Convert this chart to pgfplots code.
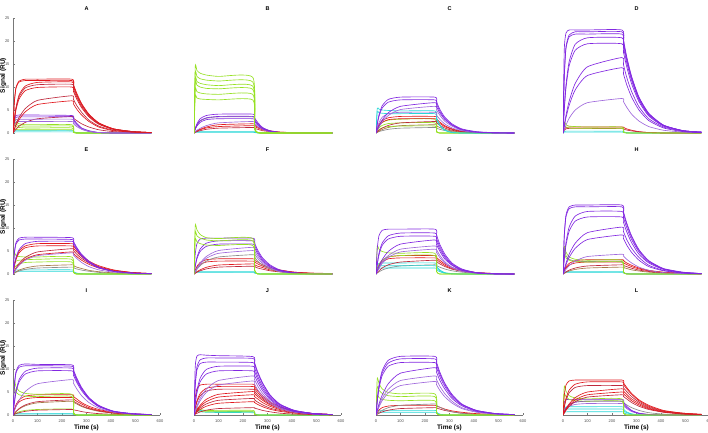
\documentclass[border=0pt]{standalone}
\usepackage{fontspec}
\setmainfont{Liberation Sans}
\usepackage{pgfplots}
\pgfplotsset{compat=1.18}
\definecolor{cR}{RGB}{225,25,30}
\definecolor{cR2}{RGB}{190,40,60}
\definecolor{cP}{RGB}{130,40,225}
\definecolor{cP2}{RGB}{160,105,220}
\definecolor{cG}{RGB}{150,225,35}
\definecolor{cC}{RGB}{40,215,215}
\definecolor{cGy}{RGB}{140,140,140}
\definecolor{cBr}{RGB}{165,120,70}
\definecolor{axg}{RGB}{120,120,120}
\def\rise#1/#2/#3/#4/#5/#6/#7\relax{(0,#1)(5,#2)(12,#3)(25,#4)(50,#5)(100,#6)(240,#7)}
\def\dec#1/#2/#3/#4/#5/#6/#7/#8\relax{(247,#1)(260,#2)(280,#3)(310,#4)(350,#5)(410,#6)(490,#7)(565,#8)}
\newcommand\cv[3]{\edef\tmp{\noexpand\addplot[#1] coordinates {\rise#2\relax\dec#3\relax};}\tmp}
\pgfplotsset{
 panel/.style={scale only axis, width=147pt, height=115pt,
  xmin=0, xmax=600, ymin=0, ymax=25,
  axis x line*=bottom, axis y line*=left,
  axis line style={draw=axg, line width=0.4pt},
  tick style={draw=axg, line width=0.3pt},
  tick align=inside, major tick length=2pt,
  xtick={0,100,...,600}, ytick={0,5,...,25},
  /pgf/number format/assume math mode=true,
  ticklabel style={font=\fontsize{4}{4}\selectfont, text=black!70},
  xticklabel style={yshift=-1.5pt},
  title style={font=\bfseries\fontsize{5.5}{6}\selectfont, at={(0.5,1)}, anchor=south, inner sep=0pt, yshift=1.5pt},
  ylabel style={font=\bfseries\fontsize{6.5}{7}\selectfont, at={(axis description cs:-0.066,0.5)}, anchor=center},
  xlabel style={font=\bfseries\fontsize{6.5}{7}\selectfont, at={(axis description cs:0.5,-0.113)}, anchor=center},
  every axis plot/.append style={line width=0.65pt, mark=none, smooth, tension=0.35},
 }
}
\begin{document}
\begin{tikzpicture}
\useasboundingbox (0,0) rectangle (708pt,432pt);
% ---------------- A
\begin{axis}[panel, at={(13pt,299pt)}, anchor=south west, hide x axis, title={A}, ylabel={Signal (RU)}]
\cv{cC}{0/0.4/0.5/0.5/0.5/0.5/0.5}{0.3/0.1/0/0/0/0/0/0}
\cv{cC}{0/0.2/0.25/0.25/0.25/0.25/0.25}{0.15/0.05/0/0/0/0/0/0}
\cv{cG}{0/3.3/2.6/2.0/1.8/1.8/1.8}{0.2/0/0/0/0/0/0/0}
\cv{cG}{0/2.5/1.9/1.6/1.5/1.5/1.5}{0.2/0/0/0/0/0/0/0}
\cv{cG}{0/1.8/1.4/1.2/1.1/1.1/1.1}{0.15/0/0/0/0/0/0/0}
\cv{cG}{0/1.0/0.8/0.7/0.7/0.7/0.7}{0.1/0/0/0/0/0/0/0}
\cv{cR2}{0/0.35/0.8/1.5/2.3/3.1/3.6}{3.2/2.7/2.0/1.3/0.7/0.3/0.1/0}
\cv{cP}{0/3.1/3.8/3.9/3.9/3.9/3.8}{3.1/2.1/1.1/0.5/0.1/0/0/0}
\cv{cP}{0/2.8/3.4/3.5/3.5/3.5/3.5}{2.8/1.9/1.0/0.4/0.1/0/0/0}
\cv{cP2}{0/2.4/2.9/3.0/3.0/3.0/3.0}{2.4/1.7/0.9/0.4/0.1/0/0/0}
\cv{cP2}{0/2.0/2.4/2.5/2.5/2.5/2.5}{2.0/1.4/0.8/0.3/0.1/0/0/0}
\cv{cR}{0/6.4/9.9/11.3/11.7/11.7/11.7}{10.5/8.7/6.4/4.1/2.2/0.9/0.3/0.1}
\cv{cR}{0/6.3/9.7/11.1/11.4/11.4/11.4}{10.3/8.4/6.3/4.0/2.2/0.9/0.3/0.1}
\cv{cR}{0/2.8/5.5/8.3/10.2/11.0/11.1}{10.0/8.2/6.1/3.9/2.1/0.9/0.3/0.1}
\cv{cR2}{0/2.6/5.3/7.9/9.8/10.5/10.6}{9.5/7.8/5.8/3.7/2.0/0.8/0.3/0.1}
\cv{cR}{0/2.5/5.0/7.4/9.2/9.9/10.0}{9.0/7.4/5.5/3.5/1.9/0.8/0.2/0.1}
\cv{cR2}{0/0.8/1.9/3.4/5.3/7.1/8.1}{7.3/6.0/4.5/2.8/1.5/0.6/0.2/0.1}
\cv{cR}{0/0.7/1.6/2.9/4.6/6.2/7.0}{6.3/5.2/3.9/2.5/1.3/0.5/0.2/0.1}
\end{axis}
% ---------------- B
\begin{axis}[panel, at={(194pt,299pt)}, anchor=south west, hide x axis, hide y axis, title={B}]
\cv{cC}{0/0.3/0.3/0.3/0.3/0.3/0.3}{0.2/0.05/0/0/0/0/0/0}
\cv{cC}{0/0.15/0.15/0.15/0.15/0.15/0.15}{0.1/0/0/0/0/0/0/0}
\cv{cR}{0/0.2/0.5/0.8/1.3/1.8/2.0}{1.7/1.3/0.9/0.5/0.2/0.1/0/0}
\cv{cR}{0/0.16/0.4/0.7/1.1/1.4/1.6}{1.4/1.1/0.7/0.4/0.2/0.05/0/0}
\cv{cR2}{0/0.12/0.3/0.5/0.8/1.05/1.2}{1.0/0.8/0.5/0.3/0.1/0/0/0}
\cv{cGy}{0/0.9/1.7/2.6/3.2/3.5/3.5}{2.8/1.9/1.0/0.4/0.1/0/0/0}
\cv{cP2}{0/0.25/0.6/1.0/1.6/2.2/2.5}{2.0/1.4/0.8/0.3/0.1/0/0/0}
\cv{cP}{0/0.8/1.5/2.3/2.9/3.1/3.1}{2.5/1.7/0.9/0.4/0.1/0/0/0}
\cv{cP}{0/0.9/1.8/2.7/3.3/3.6/3.6}{2.9/2.0/1.1/0.4/0.1/0/0/0}
\cv{cP}{0/1.0/2.0/3.1/3.8/4.1/4.1}{3.3/2.3/1.2/0.5/0.15/0/0/0}
\cv{cG}{0/14.4/13.6/13.0/12.6/12.3/12.1}{1.5/0.1/0/0/0/0/0/0}
\cv{cG}{0/13.0/12.3/11.8/11.5/11.3/11.1}{1.4/0.1/0/0/0/0/0/0}
\cv{cG}{0/11.8/11.2/10.8/10.5/10.3/10.2}{1.3/0.1/0/0/0/0/0/0}
\cv{cG}{0/11.0/10.4/10.0/9.7/9.6/9.5}{1.2/0.1/0/0/0/0/0/0}
\cv{cG}{0/9.5/9.0/8.7/8.5/8.4/8.4}{1.0/0.1/0/0/0/0/0/0}
\cv{cG}{0/8.0/7.6/7.4/7.3/7.2/7.2}{0.9/0.05/0/0/0/0/0/0}
\end{axis}
% ---------------- C
\begin{axis}[panel, at={(376pt,299pt)}, anchor=south west, hide x axis, hide y axis, title={C}]
\cv{cGy}{0/0.12/0.3/0.5/0.8/1.05/1.2}{1.05/0.8/0.55/0.3/0.15/0.05/0/0}
\cv{cBr}{0/0.18/0.4/0.75/1.2/1.6/1.8}{1.55/1.2/0.8/0.45/0.2/0.05/0/0}
\cv{cG}{0/0.8/1.5/2.3/2.8/3.0/3.0}{0.4/0/0/0/0/0/0/0}
\cv{cG}{0/0.55/1.1/1.65/2.05/2.2/2.2}{0.3/0/0/0/0/0/0/0}
\cv{cG}{0/0.4/0.75/1.1/1.4/1.5/1.5}{0.2/0/0/0/0/0/0/0}
\cv{cR}{0/0.9/1.8/2.7/3.3/3.6/3.6}{3.1/2.4/1.6/0.9/0.4/0.1/0/0}
\cv{cR}{0/0.8/1.5/2.3/2.9/3.1/3.1}{2.7/2.1/1.4/0.8/0.3/0.1/0/0}
\cv{cR2}{0/0.25/0.6/1.05/1.65/2.2/2.5}{2.2/1.7/1.1/0.6/0.3/0.1/0/0}
\cv{cC}{0/5.3/5.2/5.0/4.9/4.8/4.8}{3.4/1.8/0.7/0.1/0/0/0/0}
\cv{cC}{0/4.6/4.4/4.3/4.2/4.2/4.2}{2.9/1.6/0.6/0.1/0/0/0/0}
\cv{cP2}{0/1.1/2.2/3.4/4.2/4.5/4.5}{3.9/3.0/2.0/1.1/0.5/0.15/0/0}
\cv{cP2}{0/0.6/1.3/2.4/3.8/5.1/5.8}{5.0/3.9/2.6/1.5/0.6/0.2/0/0}
\cv{cP}{0/0.7/1.5/2.8/4.4/5.8/6.6}{5.7/4.4/3.0/1.7/0.7/0.2/0.05/0}
\cv{cP}{0/1.8/3.6/5.4/6.7/7.2/7.2}{6.3/4.8/3.2/1.8/0.8/0.2/0.05/0}
\cv{cP}{0/2.0/3.9/5.9/7.3/7.8/7.8}{6.8/5.2/3.5/2.0/0.9/0.3/0.05/0}
\end{axis}
% ---------------- D
\begin{axis}[panel, at={(563pt,299pt)}, anchor=south west, hide x axis, hide y axis, title={D}]
\cv{cC}{0/0.35/0.4/0.4/0.4/0.4/0.4}{0.25/0.1/0/0/0/0/0/0}
\cv{cC}{0/0.2/0.2/0.2/0.2/0.2/0.2}{0.1/0/0/0/0/0/0/0}
\cv{cR}{0/0.8/1.2/1.3/1.3/1.3/1.3}{1.2/0.9/0.6/0.3/0.1/0/0/0}
\cv{cR2}{0/0.6/0.9/1.0/1.0/1.0/0.95}{0.85/0.65/0.45/0.25/0.1/0/0/0}
\cv{cG}{0/2.4/1.8/1.5/1.4/1.3/1.3}{0.2/0/0/0/0/0/0/0}
\cv{cG}{0/1.6/1.3/1.1/1.0/1.0/1.0}{0.15/0/0/0/0/0/0/0}
\cv{cP2}{0/0.75/1.7/3.2/5.0/6.6/7.5}{6.8/5.6/4.1/2.6/1.4/0.6/0.2/0.1}
\cv{cP}{0/1.4/3.3/6.0/9.4/12.5/14.2}{12.8/10.5/7.8/5.0/2.7/1.1/0.3/0.1}
\cv{cP}{0/1.6/3.8/6.9/10.8/14.4/16.4}{14.8/12.1/9.0/5.7/3.1/1.3/0.4/0.1}
\cv{cP}{0/4.9/9.7/14.6/18.0/19.4/19.4}{17.5/14.4/10.7/6.8/3.7/1.5/0.5/0.1}
\cv{cP}{0/5.2/10.4/15.5/19.3/20.7/20.7}{18.6/15.3/11.4/7.2/3.9/1.6/0.5/0.2}
\cv{cP}{0/11.8/18.3/20.9/21.5/21.5/21.5}{19.4/15.9/11.8/7.5/4.1/1.7/0.5/0.2}
\cv{cP}{0/12.1/18.7/21.3/22.0/22.0/22.0}{19.8/16.3/12.1/7.7/4.2/1.7/0.5/0.2}
\cv{cP}{0/17.9/21.7/22.4/22.4/22.4/22.4}{20.2/16.6/12.3/7.8/4.3/1.7/0.5/0.2}
\end{axis}
% ---------------- E
\begin{axis}[panel, at={(13pt,158pt)}, anchor=south west, hide x axis, title={E}, ylabel={Signal (RU)}]
\cv{cC}{0/0.8/0.9/0.9/0.9/0.9/0.9}{0.5/0.2/0.05/0/0/0/0/0}
\cv{cC}{0/0.5/0.6/0.6/0.6/0.6/0.6}{0.35/0.1/0/0/0/0/0/0}
\cv{cGy}{0/0.15/0.35/0.65/1.0/1.3/1.5}{1.35/1.1/0.85/0.6/0.35/0.15/0.05/0}
\cv{cBr}{0/0.2/0.45/0.85/1.3/1.75/2.0}{1.8/1.5/1.2/0.8/0.5/0.25/0.1/0}
\cv{cG}{0/4.5/4.0/3.8/3.7/3.7/3.7}{0.4/0/0/0/0/0/0/0}
\cv{cG}{0/2.4/2.8/3.0/3.1/3.2/3.2}{0.4/0/0/0/0/0/0/0}
\cv{cG}{0/1.2/1.8/2.2/2.5/2.6/2.6}{0.3/0/0/0/0/0/0/0}
\cv{cR}{0/0.5/1.1/2.0/3.2/4.2/4.8}{4.4/3.8/3.0/2.1/1.3/0.6/0.2/0.1}
\cv{cR2}{0/0.55/1.3/2.3/3.6/4.8/5.5}{5.1/4.3/3.4/2.4/1.5/0.7/0.3/0.1}
\cv{cR}{0/1.5/3.1/4.6/5.7/6.1/6.1}{5.6/4.8/3.8/2.6/1.6/0.8/0.3/0.1}
\cv{cR}{0/1.7/3.3/5.0/6.1/6.6/6.6}{6.1/5.2/4.1/2.8/1.8/0.9/0.3/0.1}
\cv{cP2}{0/0.5/1.1/1.9/3.0/4.0/4.6}{4.1/3.4/2.5/1.6/0.9/0.4/0.1/0}
\cv{cP}{0/1.8/3.6/5.3/6.6/7.1/7.1}{6.4/5.3/3.9/2.5/1.3/0.6/0.2/0.1}
\cv{cP}{0/4.2/6.5/7.4/7.6/7.6/7.5}{6.8/5.6/4.1/2.6/1.4/0.6/0.2/0.1}
\cv{cP}{0/4.4/6.8/7.8/8.0/8.0/7.9}{7.1/5.8/4.3/2.8/1.5/0.6/0.2/0.1}
\end{axis}
% ---------------- F
\begin{axis}[panel, at={(194pt,158pt)}, anchor=south west, hide x axis, hide y axis, title={F}]
\cv{cC}{0/0.45/0.5/0.5/0.5/0.5/0.5}{0.3/0.1/0/0/0/0/0/0}
\cv{cC}{0/0.25/0.3/0.3/0.3/0.3/0.3}{0.2/0.05/0/0/0/0/0/0}
\cv{cR2}{0/0.17/0.4/0.7/1.1/1.5/1.7}{1.6/1.3/1.05/0.7/0.45/0.2/0.1/0}
\cv{cR}{0/0.2/0.5/0.9/1.45/1.95/2.2}{2.0/1.7/1.4/0.9/0.6/0.3/0.1/0}
\cv{cR}{0/0.7/1.4/2.1/2.6/2.8/2.8}{2.6/2.2/1.7/1.2/0.8/0.4/0.1/0}
\cv{cR}{0/0.8/1.65/2.5/3.1/3.3/3.3}{3.0/2.6/2.0/1.4/0.9/0.4/0.2/0.1}
\cv{cGy}{0/0.4/1.0/1.8/2.8/3.7/4.2}{3.7/2.8/1.9/1.1/0.5/0.1/0/0}
\cv{cP2}{0/0.5/1.2/2.1/3.4/4.5/5.1}{4.4/3.4/2.3/1.3/0.6/0.2/0/0}
\cv{cP2}{0/0.6/1.3/2.4/3.8/5.1/5.8}{5.0/3.9/2.6/1.5/0.6/0.2/0/0}
\cv{cP}{0/1.6/3.3/4.9/6.0/6.5/6.5}{5.7/4.4/2.9/1.6/0.7/0.2/0/0}
\cv{cP}{0/1.8/3.6/5.4/6.7/7.2/7.2}{6.3/4.8/3.2/1.8/0.8/0.2/0.05/0}
\cv{cP}{0/4.3/6.6/7.6/7.8/7.8/7.8}{6.8/5.2/3.5/2.0/0.9/0.3/0.05/0}
\cv{cG}{0/10.5/9.6/8.6/7.9/7.7/7.7}{1.0/0.05/0/0/0/0/0/0}
\cv{cG}{0/9.0/8.3/7.8/7.4/7.2/7.2}{0.9/0/0/0/0/0/0/0}
\cv{cG}{0/7.5/7.0/6.6/6.3/6.2/6.2}{0.8/0/0/0/0/0/0/0}
\end{axis}
% ---------------- G
\begin{axis}[panel, at={(376pt,158pt)}, anchor=south west, hide x axis, hide y axis, title={G}]
\cv{cGy}{0/0.2/0.45/0.85/1.3/1.75/2.0}{1.8/1.5/1.1/0.7/0.4/0.15/0.05/0}
\cv{cC}{0/1.0/1.25/1.3/1.3/1.3/1.3}{0.9/0.5/0.2/0/0/0/0/0}
\cv{cC}{0/1.4/1.75/1.8/1.8/1.8/1.8}{1.3/0.7/0.25/0.05/0/0/0/0}
\cv{cC}{0/1.9/2.3/2.4/2.4/2.4/2.4}{1.7/0.9/0.3/0.1/0/0/0/0}
\cv{cR2}{0/0.3/0.7/1.3/2.0/2.6/3.0}{2.7/2.2/1.65/1.05/0.6/0.2/0.1/0}
\cv{cR}{0/0.9/1.75/2.6/3.3/3.5/3.5}{3.2/2.6/1.9/1.2/0.7/0.3/0.1/0}
\cv{cR}{0/1.0/2.0/3.0/3.7/4.0/4.0}{3.6/3.0/2.2/1.4/0.8/0.3/0.1/0}
\cv{cG}{0/1.0/2.0/3.0/3.7/4.0/4.0}{0.5/0/0/0/0/0/0/0}
\cv{cG}{0/6.0/5.4/4.9/4.6/4.5/4.5}{0.6/0/0/0/0/0/0/0}
\cv{cP2}{0/0.5/1.2/2.3/3.6/4.8/5.4}{4.7/3.6/2.4/1.35/0.6/0.2/0/0}
\cv{cP2}{0/0.6/1.4/2.6/4.0/5.4/6.1}{5.3/4.1/2.7/1.5/0.7/0.2/0/0}
\cv{cP}{0/0.7/1.7/3.1/4.9/6.5/7.4}{6.4/5.0/3.3/1.9/0.8/0.2/0/0}
\cv{cP}{0/2.0/4.1/6.2/7.6/8.2/8.2}{7.1/5.5/3.7/2.0/0.9/0.3/0/0}
\cv{cP}{0/2.2/4.5/6.7/8.3/8.9/8.9}{7.7/6.0/4.0/2.2/1.0/0.3/0.05/0}
\cv{cP}{0/5.4/8.3/9.5/9.75/9.75/9.75}{8.5/6.5/4.4/2.4/1.1/0.3/0.07/0}
\end{axis}
% ---------------- H
\begin{axis}[panel, at={(563pt,158pt)}, anchor=south west, hide x axis, hide y axis, title={H}]
\cv{cC}{0/0.45/0.5/0.5/0.5/0.5/0.5}{0.3/0.1/0/0/0/0/0/0}
\cv{cC}{0/0.25/0.3/0.3/0.3/0.3/0.3}{0.2/0.05/0/0/0/0/0/0}
\cv{cBr}{0/0.15/0.35/0.65/1.0/1.3/1.5}{1.4/1.2/0.9/0.65/0.4/0.2/0.05/0}
\cv{cR2}{0/0.2/0.45/0.85/1.3/1.75/2.0}{1.85/1.6/1.25/0.85/0.55/0.25/0.1/0}
\cv{cR}{0/0.65/1.3/1.95/2.4/2.6/2.6}{2.4/2.05/1.6/1.1/0.7/0.35/0.1/0}
\cv{cR}{0/0.8/1.55/2.3/2.9/3.1/3.1}{2.9/2.4/1.9/1.3/0.8/0.4/0.15/0.05}
\cv{cGy}{0/5.5/4.0/3.2/2.8/2.7/2.7}{0.4/0/0/0/0/0/0/0}
\cv{cG}{0/4.2/3.5/3.0/2.7/2.6/2.6}{0.35/0/0/0/0/0/0/0}
\cv{cG}{0/6.0/4.8/3.7/3.2/3.0/3.0}{0.4/0/0/0/0/0/0/0}
\cv{cP2}{0/0.4/1.0/1.8/2.8/3.8/4.3}{3.9/3.2/2.4/1.5/0.8/0.3/0.1/0}
\cv{cP}{0/0.85/2.0/3.6/5.6/7.5/8.5}{7.7/6.3/4.7/3.0/1.6/0.7/0.2/0.1}
\cv{cP}{0/1.0/2.3/4.3/6.7/9.0/10.2}{9.2/7.5/5.6/3.6/1.9/0.8/0.25/0.1}
\cv{cP}{0/3.1/6.2/9.3/11.5/12.4/12.4}{11.2/9.2/6.8/4.3/2.4/1.0/0.3/0.1}
\cv{cP}{0/3.4/6.8/10.2/12.6/13.6/13.6}{12.2/10.1/7.5/4.8/2.6/1.1/0.3/0.1}
\cv{cP}{0/8.0/12.4/14.2/14.6/14.6/14.6}{13.1/10.8/8.0/5.1/2.8/1.1/0.35/0.1}
\cv{cP}{0/8.3/12.8/14.6/15.0/15.0/15.0}{13.5/11.1/8.3/5.3/2.9/1.2/0.4/0.1}
\end{axis}
% ---------------- I
\begin{axis}[panel, at={(13pt,17pt)}, anchor=south west, title={I}, ylabel={Signal (RU)}, xlabel={Time (s)}]
\cv{cC}{0/0.25/0.3/0.3/0.3/0.3/0.3}{0.2/0.05/0/0/0/0/0/0}
\cv{cC}{0/0.15/0.2/0.2/0.2/0.2/0.2}{0.1/0/0/0/0/0/0/0}
\cv{cG}{0/0.2/0.4/0.7/1.0/1.2/1.3}{0.2/0/0/0/0/0/0/0}
\cv{cR2}{0/0.12/0.3/0.5/0.8/1.05/1.2}{1.1/1.0/0.75/0.5/0.3/0.15/0.05/0}
\cv{cBr}{0/0.3/0.7/1.3/2.0/2.65/3.0}{2.75/2.4/1.85/1.3/0.8/0.4/0.15/0.05}
\cv{cR2}{0/0.33/0.76/1.4/2.2/2.9/3.3}{3.0/2.6/2.0/1.4/0.9/0.4/0.2/0.1}
\cv{cR}{0/0.95/1.9/2.85/3.5/3.8/3.8}{3.5/3.0/2.4/1.6/1.0/0.5/0.2/0.1}
\cv{cR}{0/1.1/2.2/3.3/4.1/4.4/4.4}{4.0/3.5/2.7/1.9/1.2/0.6/0.2/0.1}
\cv{cG}{0/5.8/5.0/4.4/4.1/4.0/4.0}{0.5/0/0/0/0/0/0/0}
\cv{cG}{0/7.3/6.2/5.2/4.7/4.5/4.5}{0.6/0/0/0/0/0/0/0}
\cv{cP2}{0/0.8/1.8/3.2/5.1/6.8/7.7}{6.9/5.7/4.2/2.7/1.5/0.6/0.2/0.1}
\cv{cP}{0/2.4/4.8/7.2/8.9/9.6/9.6}{8.6/7.1/5.3/3.4/1.8/0.75/0.2/0.1}
\cv{cP}{0/2.6/5.1/7.7/9.5/10.2/10.2}{9.2/7.5/5.6/3.6/1.9/0.8/0.25/0.1}
\cv{cP}{0/5.9/9.1/10.4/10.7/10.7/10.6}{9.5/7.8/5.8/3.7/2.0/0.8/0.25/0.1}
\cv{cP}{0/6.1/9.4/10.8/11.1/11.0/10.9}{9.8/8.1/6.0/3.8/2.1/0.85/0.3/0.1}
\end{axis}
% ---------------- J
\begin{axis}[panel, at={(194pt,17pt)}, anchor=south west, hide y axis, title={J}, xlabel={Time (s)}]
\cv{cC}{0/1.2/1.1/1.0/0.9/0.8/0.7}{0.3/0.05/0/0/0/0/0/0}
\cv{cC}{0/0.8/0.75/0.7/0.6/0.55/0.5}{0.2/0.05/0/0/0/0/0/0}
\cv{cG}{0/2.0/1.6/1.2/1.0/1.0/1.0}{0.2/0/0/0/0/0/0/0}
\cv{cG}{0/1.3/1.0/0.8/0.7/0.7/0.7}{0.15/0/0/0/0/0/0/0}
\cv{cR2}{0/0.16/0.37/0.67/1.05/1.4/1.6}{1.5/1.3/1.0/0.7/0.4/0.2/0.1/0}
\cv{cR}{0/0.3/0.7/1.2/1.9/2.55/2.9}{2.7/2.3/1.8/1.25/0.8/0.4/0.15/0.05}
\cv{cR2}{0/0.36/0.8/1.5/2.4/3.2/3.6}{3.3/2.8/2.2/1.5/1.0/0.5/0.2/0.1}
\cv{cR}{0/0.45/1.0/1.85/2.9/3.9/4.4}{4.0/3.5/2.7/1.9/1.2/0.6/0.2/0.1}
\cv{cR}{0/0.5/1.2/2.1/3.4/4.5/5.1}{4.7/4.0/3.2/2.2/1.4/0.7/0.3/0.1}
\cv{cR2}{0/1.4/2.8/4.2/5.2/5.6/5.6}{5.2/4.4/3.5/2.4/1.5/0.7/0.3/0.1}
\cv{cR}{0/1.55/3.1/4.65/5.8/6.2/6.2}{5.7/4.9/3.8/2.7/1.7/0.8/0.3/0.1}
\cv{cR}{0/3.7/5.7/6.5/6.7/6.7/6.7}{6.2/5.3/4.2/2.9/1.8/0.9/0.3/0.1}
\cv{cP2}{0/0.75/1.7/3.1/4.9/6.5/7.4}{6.7/5.5/4.1/2.6/1.4/0.6/0.2/0.1}
\cv{cP2}{0/0.85/2.0/3.6/5.6/7.5/8.5}{7.7/6.3/4.7/3.0/1.6/0.7/0.2/0.1}
\cv{cP}{0/2.4/4.8/7.2/8.9/9.6/9.6}{8.6/7.1/5.3/3.4/1.8/0.75/0.2/0.1}
\cv{cP}{0/2.65/5.3/8.0/9.9/10.6/10.6}{9.5/7.8/5.8/3.7/2.0/0.8/0.25/0.1}
\cv{cP}{0/6.3/9.8/11.2/11.5/11.5/11.4}{10.3/8.4/6.3/4.0/2.2/0.9/0.3/0.1}
\cv{cP}{0/6.8/10.5/12.0/12.4/12.4/12.3}{11.1/9.1/6.8/4.3/2.3/1.0/0.3/0.1}
\cv{cP}{0/10.5/12.8/13.1/13.0/12.9/12.7}{11.4/9.4/7.0/4.4/2.4/1.0/0.3/0.1}
\end{axis}
% ---------------- K
\begin{axis}[panel, at={(376pt,17pt)}, anchor=south west, hide y axis, title={K}, xlabel={Time (s)}]
\cv{cC}{0/0.8/1.0/1.0/1.0/1.0/1.0}{0.6/0.2/0.05/0/0/0/0/0}
\cv{cC}{0/0.5/0.6/0.6/0.6/0.6/0.6}{0.35/0.1/0/0/0/0/0/0}
\cv{cR2}{0/0.16/0.37/0.67/1.05/1.4/1.6}{1.5/1.3/1.0/0.7/0.4/0.2/0.1/0}
\cv{cR}{0/0.5/1.05/1.6/1.95/2.1/2.1}{1.9/1.7/1.3/0.9/0.6/0.3/0.1/0}
\cv{cGy}{0/0.25/0.55/1.0/1.6/2.1/2.4}{2.1/1.7/1.2/0.7/0.35/0.1/0/0}
\cv{cG}{0/4.2/3.8/3.4/3.2/3.1/3.1}{0.4/0/0/0/0/0/0/0}
\cv{cG}{0/6.0/5.4/4.7/4.2/4.0/4.0}{0.5/0/0/0/0/0/0/0}
\cv{cG}{0/7.9/6.9/5.7/4.9/4.6/4.6}{0.6/0/0/0/0/0/0/0}
\cv{cP2}{0/0.7/1.7/3.1/4.8/6.4/7.3}{6.6/5.4/4.0/2.6/1.4/0.6/0.2/0.1}
\cv{cP2}{0/0.85/2.0/3.6/5.6/7.5/8.5}{7.7/6.3/4.7/3.0/1.6/0.7/0.2/0.1}
\cv{cP}{0/1.0/2.4/4.3/6.8/9.1/10.3}{9.3/7.6/5.7/3.6/2.0/0.8/0.25/0.1}
\cv{cP}{0/2.85/5.7/8.55/10.6/11.4/11.4}{10.3/8.4/6.3/4.0/2.2/0.9/0.3/0.1}
\cv{cP}{0/3.05/6.1/9.15/11.3/12.2/12.2}{11.0/9.0/6.7/4.3/2.3/1.0/0.3/0.1}
\cv{cP}{0/3.2/6.4/9.6/11.9/12.75/12.75}{11.5/9.4/7.0/4.5/2.4/1.0/0.3/0.1}
\end{axis}
% ---------------- L
\begin{axis}[panel, at={(563pt,17pt)}, anchor=south west, hide y axis, title={L}, xlabel={Time (s)}]
\cv{cC}{0/0.55/0.68/0.7/0.7/0.7/0.7}{0.5/0.25/0.1/0/0/0/0/0}
\cv{cC}{0/1.05/1.27/1.3/1.3/1.3/1.3}{0.9/0.5/0.2/0.05/0/0/0/0}
\cv{cC}{0/1.45/1.75/1.8/1.8/1.8/1.8}{1.26/0.67/0.25/0.05/0/0/0/0}
\cv{cGy}{0/0.75/1.5/2.25/2.8/3.0/3.0}{2.7/2.2/1.6/1.0/0.5/0.2/0.05/0}
\cv{cP2}{0/0.6/1.25/1.9/2.3/2.5/2.5}{2.0/1.4/0.75/0.3/0.1/0/0/0}
\cv{cP}{0/0.75/1.5/2.25/2.8/3.0/3.0}{2.4/1.65/0.9/0.36/0.1/0/0/0}
\cv{cP}{0/2.7/3.3/3.4/3.4/3.4/3.4}{2.75/1.9/1.0/0.4/0.13/0/0/0}
\cv{cG}{0/4.5/4.0/3.4/3.1/3.0/3.0}{0.4/0/0/0/0/0/0/0}
\cv{cG}{0/6.2/5.2/4.2/3.7/3.5/3.5}{0.4/0/0/0/0/0/0/0}
\cv{cR2}{0/0.44/1.0/1.85/2.9/3.9/4.4}{4.0/3.5/2.7/1.9/1.2/0.6/0.2/0.1}
\cv{cR}{0/0.5/1.15/2.1/3.3/4.4/5.0}{4.6/4.0/3.1/2.2/1.35/0.65/0.25/0.1}
\cv{cR}{0/0.57/1.3/2.4/3.8/5.0/5.7}{5.2/4.5/3.5/2.5/1.5/0.7/0.3/0.1}
\cv{cR2}{0/1.6/3.2/4.8/6.0/6.4/6.4}{5.9/5.1/4.0/2.8/1.7/0.8/0.3/0.1}
\cv{cR}{0/1.8/3.6/5.4/6.7/7.2/7.2}{6.6/5.7/4.5/3.1/1.9/0.9/0.4/0.15}
\cv{cR}{0/4.2/6.5/7.4/7.6/7.6/7.6}{7.0/6.0/4.7/3.3/2.1/1.0/0.4/0.15}
\end{axis}
\end{tikzpicture}
\end{document}
